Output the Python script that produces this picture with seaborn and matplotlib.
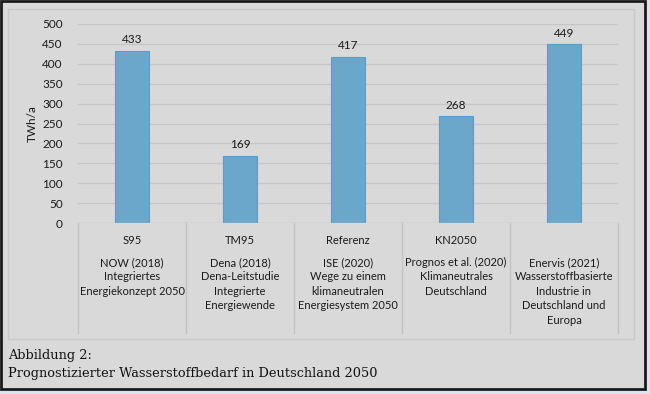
import matplotlib
matplotlib.use("Agg")
import matplotlib.pyplot as plt
import matplotlib.transforms as mtransforms
from matplotlib.patches import Rectangle
import seaborn as sns
import pandas as pd

scenarios = ["S95", "TM95", "Referenz", "KN2050", ""]
sources = [
    "NOW (2018)\nIntegriertes\nEnergiekonzept 2050",
    "Dena (2018)\nDena-Leitstudie\nIntegrierte\nEnergiewende",
    "ISE (2020)\nWege zu einem\nklimaneutralen\nEnergiesystem 2050",
    "Prognos et al. (2020)\nKlimaneutrales\nDeutschland",
    "Enervis (2021)\nWasserstoffbasierte\nIndustrie in\nDeutschland und\nEuropa",
]
values = [433, 169, 417, 268, 449]
yticks = [0, 50, 100, 150, 200, 250, 300, 350, 400, 450, 500]
ylabel = "TWh/a"
caption1 = "Abbildung 2:"
caption2 = "Prognostizierter Wasserstoffbedarf in Deutschland 2050"

sns.set_theme(style="white")
plt.rcParams["font.family"] = ["Lato", "DejaVu Sans"]

W, H = 650, 394
fig = plt.figure(figsize=(W / 100, H / 100), dpi=100)
fig.patch.set_facecolor("#dbe5f1")

def px(x0, y0, x1, y1):
    return (x0 / W, 1 - y1 / H, (x1 - x0) / W, (y1 - y0) / H)

# outer dark frame + gray panel
x, y, w, h = px(1, 1, 645, 389)
fig.add_artist(Rectangle((x, y), w, h, transform=fig.transFigure,
                         facecolor="#d9d9d9", edgecolor="#1a1a1a", lw=2.0, zorder=0))
# inner chart box
x, y, w, h = px(8, 9, 634, 339)
fig.add_artist(Rectangle((x, y), w, h, transform=fig.transFigure,
                         facecolor="#d9d9d9", edgecolor="#c9c9c9", lw=1.0, zorder=0))

ax = fig.add_axes(px(78, 24, 618, 223))
ax.set_facecolor("none")
df = pd.DataFrame({"cat": [f"c{i}" for i in range(len(values))], "val": values})
sns.barplot(data=df, x="cat", y="val", ax=ax, color="#6aa7ca", width=0.32,
            edgecolor="#5c9cc6", linewidth=0.8, saturation=1, zorder=3)
ax.set_xlim(-0.5, len(values) - 0.5)
ax.set_ylim(0, 500)
ax.set_yticks(yticks)
ax.set_yticklabels([str(t) for t in yticks], fontsize=8.5, color="#1a1a1a")
ax.tick_params(axis="y", length=0, pad=11)
ax.tick_params(axis="x", length=0, labelbottom=False)
ax.set_xlabel("")
ax.set_ylabel(ylabel, fontsize=8.5, color="#1a1a1a", labelpad=6)
ax.yaxis.set_label_coords(-0.075, 0.5)
for yt in yticks[1:]:
    ax.axhline(yt, color="#c6c6ca", lw=1.0, zorder=1)
for s in ax.spines.values():
    s.set_visible(False)
ax.axhline(0, color="#bfbfbf", lw=1.0, zorder=4)

for cont in ax.containers:
    ax.bar_label(cont, labels=[str(v) for v in values], padding=4,
                 fontsize=8.5, color="#1a1a1a")

# category separators and labels below the axis
trans = mtransforms.blended_transform_factory(ax.transData, fig.transFigure)
ybot = 1 - 333 / H
ytop = 1 - 223 / H
for b in [i - 0.5 for i in range(len(values) + 1)]:
    ax.plot([b, b], [ytop, ybot], transform=trans, color="#c3c3c3", lw=1.0, clip_on=False)
for i, (sc, src) in enumerate(zip(scenarios, sources)):
    ax.text(i, 1 - 240 / H, sc, transform=trans, ha="center", va="center",
            fontsize=8, color="#1a1a1a")
    ax.text(i, 1 - 257 / H, src, transform=trans, ha="center", va="top",
            fontsize=8, color="#1a1a1a", linespacing=1.38)

fig.text(8 / W, 1 - 355 / H, caption1, fontsize=9.3, family="DejaVu Serif",
         color="#111111", va="center", ha="left")
fig.text(8 / W, 1 - 374 / H, caption2, fontsize=9.3, family="DejaVu Serif",
         color="#111111", va="center", ha="left")

fig.savefig("out.png", dpi=100, facecolor=fig.get_facecolor())
